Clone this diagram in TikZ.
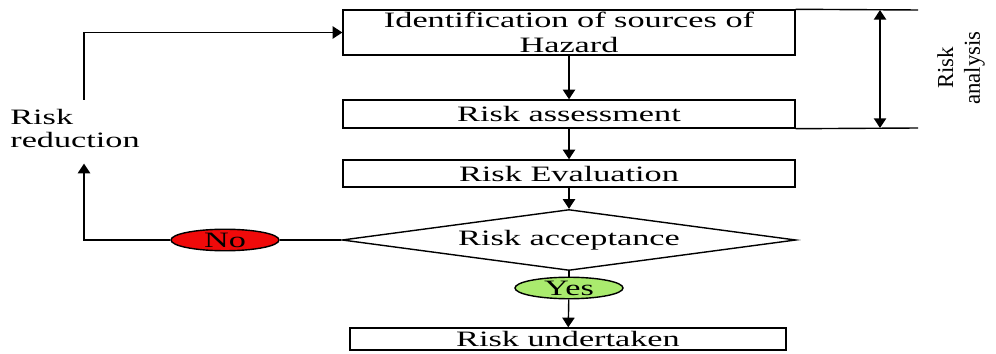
\documentclass[tikz,border=0pt]{standalone}
\usepackage{fontspec}
\setmainfont[FakeStretch=1.56]{Liberation Serif}
\newfontfamily\rotfont{Liberation Serif}
\usepackage{xcolor}
\usetikzlibrary{arrows.meta, shapes.geometric, calc}
\definecolor{noRed}{RGB}{240,10,10}
\definecolor{yesGreen}{RGB}{170,235,110}
\tikzset{
  stepbox/.style={rectangle, draw=black, line width=0.8pt, fill=white,
                  minimum width=9.04cm, inner sep=0pt, align=center,
                  font=\fontsize{12.5}{14}\selectfont},
  decide/.style={diamond, draw=black, line width=0.8pt, aspect=7.4,
                 inner sep=0pt, minimum width=9.08cm, minimum height=1.22cm,
                 font=\fontsize{12.5}{14}\selectfont},
  answer/.style={ellipse, draw=black, line width=0.8pt, fill=#1,
                 inner sep=0pt, minimum width=2.16cm, minimum height=0.43cm,
                 font=\fontsize{12.5}{14}\selectfont},
  arr/.style={-{Triangle[length=5.5pt, width=7pt]}, line width=0.8pt},
  arrs/.style={{Triangle[length=5.5pt, width=7pt]}-{Triangle[length=5.5pt, width=7pt]}, line width=0.8pt},
  plain/.style={line width=0.8pt},
}
\begin{document}
\begin{tikzpicture}[x=0.02cm, y=-0.02cm]
  \useasboundingbox (0,0) rectangle (996,354);
  %% main column
  \node[stepbox, minimum height=0.9cm]  (ident)  at (569,32.5)
    {Identification of sources of\\Hazard};
  \node[stepbox, minimum height=0.56cm] (assess) at (569,114) {Risk assessment};
  \node[stepbox, minimum height=0.54cm] (evalu)  at (569,173.5) {Risk Evaluation};
  \node[decide] (accept) at (569,240) {Risk acceptance};
  \node[answer=yesGreen] (yes) at (569,288) {Yes};
  \node[stepbox, minimum width=8.72cm, minimum height=0.44cm] (under) at (568,339)
    {Risk undertaken};
  \draw[arr] (ident) -- (assess);
  \draw[arr] (assess) -- (evalu);
  \draw[arr] (evalu) -- (accept);
  \draw[plain] (accept) -- (yes);
  \draw[arr] (yes) -- (under);
  %% feedback loop
  \node[answer=noRed] (no) at (225,240) {No};
  \node[anchor=north west, align=left, inner xsep=0pt, inner ysep=5pt,
        font=\fontsize{12.5}{13}\selectfont] (reduce) at (10,100) {Risk\\reduction};
  \coordinate (turn) at (84,240);
  \draw[plain] (accept) -- (no);
  \draw[arr, shorten >=4pt] (no) -- (turn) -- (turn |- reduce.south);
  \draw[arr] (turn |- reduce.north) |- (ident);
  %% risk analysis span
  \coordinate (rtop) at (918,10);
  \coordinate (rbot) at (918,128);
  \draw[plain] (ident.north east) -- (rtop);
  \draw[plain] (assess.south east) -- (rbot);
  \draw[arrs] ([xshift=-0.76cm]rtop) -- ([xshift=-0.76cm]rbot);
  \node[rotate=90, align=center, font=\rotfont\fontsize{13}{15.3}\selectfont]
    (analysis) at (961,68) {Risk\\analysis};
\end{tikzpicture}
\end{document}
